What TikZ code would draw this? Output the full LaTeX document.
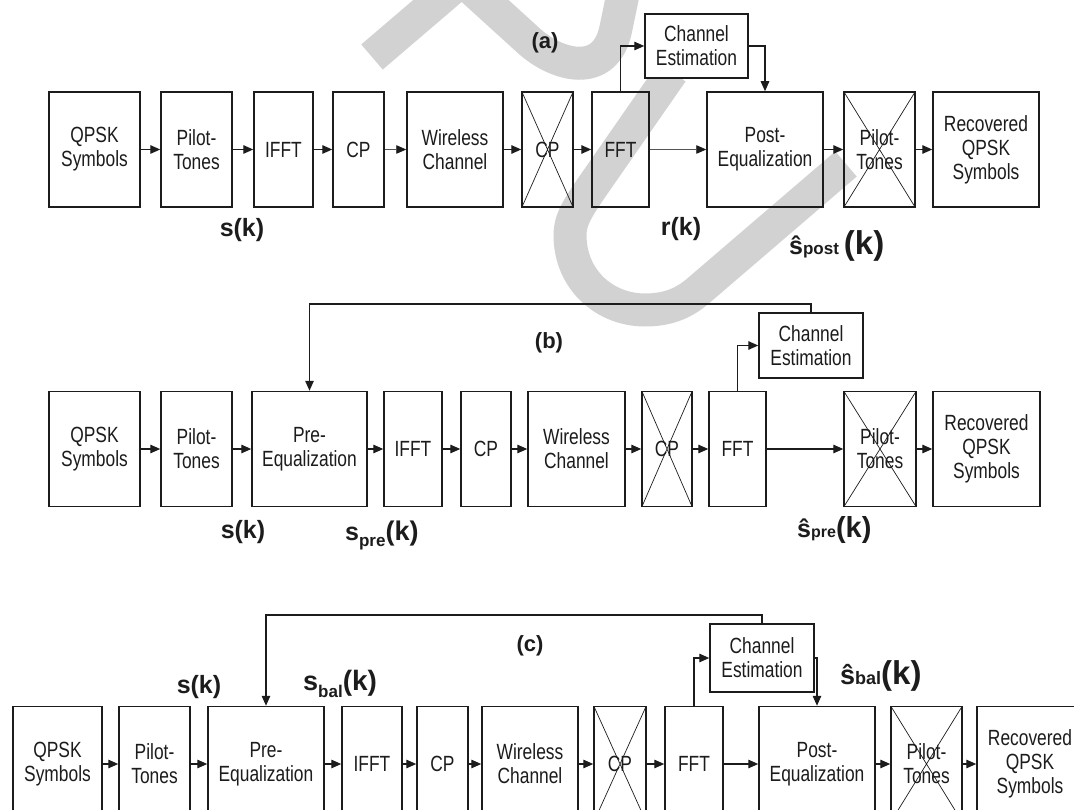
\documentclass[tikz,border=0pt]{standalone}
\usepackage{fontspec}
\setmainfont{Liberation Sans}[FakeStretch=0.79]
\newfontfamily\lblfont{Liberation Sans}
\usetikzlibrary{arrows.meta}

\definecolor{wmark}{RGB}{210,210,210}
\definecolor{ink}{RGB}{28,28,28}

\newcommand\bxfont{\fontsize{22}{24}\selectfont}
\newcommand\lsz[2]{{\fontsize{#1}{#1}\selectfont #2}}

\tikzset{
  box/.style={draw=ink, line width=1.5pt, inner sep=0pt, align=center,
    font=\bxfont, text=ink, minimum height=115pt},
  crossed/.style={box, path picture={
    \draw[line width=0.7pt, ink]
      (path picture bounding box.south west) -- (path picture bounding box.north east)
      (path picture bounding box.north west) -- (path picture bounding box.south east);}},
  flow/.style={draw=ink, line width=1.4pt, -{Triangle[length=10pt,width=8.5pt]}},
  thinflow/.style={draw=ink!75, line width=0.8pt, -{Triangle[length=10pt,width=8.5pt,color=ink]}},
  lbl/.style={font=\lblfont\bfseries, text=ink, inner sep=0pt},
  wm/.style={draw=wmark, line width=33pt, line cap=butt, line join=miter},
}

\begin{document}
\begin{tikzpicture}[x=1pt, y=-1pt]
\clip (0,0) rectangle (1074,810);
\fill[white] (0,0) rectangle (1074,810);

% background logo strokes
\draw[wm] (372,57) -- (462,-20) -- (528,40)
  .. controls (556,66) and (606,80) .. (616,28) -- (628,-30);
\draw[wm] (672,72) -- (590,190)
  .. controls (575,212) and (570,222) .. (570,235)
  .. controls (570,280) and (605,310) .. (645,310)
  .. controls (668,310) and (684,303) .. (698,291) -- (846,164);

% ---------------- (a) post-equalization ----------------
\node[box, minimum width=91pt]  (a1)  at (94.5,149.5)  {QPSK\\Symbols};
\node[box, minimum width=71pt]  (a2)  at (196.5,149.5) {Pilot-\\Tones};
\node[box, minimum width=59pt]  (a3)  at (283.5,149.5) {IFFT};
\node[box, minimum width=51pt]  (a4)  at (358.5,149.5) {CP};
\node[box, minimum width=96pt]  (a5)  at (455,149.5)   {Wireless\\Channel};
\node[crossed, minimum width=51pt] (a6) at (547.5,149.5) {CP};
\node[box, minimum width=57pt]  (a7)  at (620.5,149.5) {FFT};
\node[box, fill=white, minimum width=103pt, minimum height=64pt] (a8) at (696.5,46) {Channel\\Estimation};
\node[box, minimum width=116pt] (a9)  at (765,149.5)   {Post-\\Equalization};
\node[crossed, minimum width=71pt] (a10) at (879.5,149.5) {Pilot-\\Tones};
\node[box, minimum width=106pt] (a11) at (986,149.5)   {Recovered\\QPSK\\Symbols};

\draw[flow] (a1) -- (a2);
\draw[flow] (a2) -- (a3);
\draw[flow] (a3) -- (a4);
\draw[thinflow] (a4) -- (a5);
\draw[flow] (a5) -- (a6);
\draw[flow] (a6) -- (a7);
\draw[thinflow] (a7) -- (a9);
\draw[flow] (a9) -- (a10);
\draw[flow] (a10) -- (a11);
\draw[flow] (a7.north) |- (a8.west);
\draw[flow] (a8.east) -| (a9.north);

\node[lbl, font=\lblfont\bfseries\fontsize{22}{22}\selectfont] (ta) at (545,43) {(a)};
\node[lbl, font=\lblfont\bfseries\fontsize{25}{25}\selectfont] (sa) at (242,230) {s(k)};
\node[lbl, font=\lblfont\bfseries\fontsize{25}{25}\selectfont] (ra) at (681,229) {r(k)};
\node[lbl, anchor=base west] (pa) at (789,255)
  {\lsz{25}{ŝ}\lsz{17}{post}\hspace{5pt}\lsz{33}{(k)}};

% ---------------- (b) pre-equalization ----------------
\node[box, minimum width=91pt]  (b1)  at (94.5,449)  {QPSK\\Symbols};
\node[box, minimum width=71pt]  (b2)  at (196.5,449) {Pilot-\\Tones};
\node[box, minimum width=115pt] (b3)  at (309.5,449) {Pre-\\Equalization};
\node[box, minimum width=58pt]  (b4)  at (413,449)   {IFFT};
\node[box, minimum width=50pt]  (b5)  at (486,449)   {CP};
\node[box, minimum width=97pt]  (b6)  at (576.5,449) {Wireless\\Channel};
\node[crossed, minimum width=50pt] (b7) at (667,449) {CP};
\node[box, minimum width=57pt]  (b8)  at (737.5,449) {FFT};
\node[box, fill=white, minimum width=104pt, minimum height=65pt] (b9) at (811,345.5) {Channel\\Estimation};
\node[crossed, minimum width=72pt] (b10) at (880,449) {Pilot-\\Tones};
\node[box, minimum width=107pt] (b11) at (986.5,449) {Recovered\\QPSK\\Symbols};

\coordinate (bfb) at (0,304);
\draw[flow] (b1) -- (b2);
\draw[flow] (b2) -- (b3);
\draw[flow] (b3) -- (b4);
\draw[flow] (b4) -- (b5);
\draw[flow] (b5) -- (b6);
\draw[flow] (b6) -- (b7);
\draw[flow] (b7) -- (b8);
\draw[flow] (b8) -- (b10);
\draw[flow] (b10) -- (b11);
\draw[flow] (b8.north) |- (b9.west);
\draw[flow] (b9.north) -- (b9.north |- bfb) -| (b3.north);

\node[lbl, font=\lblfont\bfseries\fontsize{22}{22}\selectfont] (tb) at (549,343) {(b)};
\node[lbl, font=\lblfont\bfseries\fontsize{25}{25}\selectfont] (sb) at (243,532) {s(k)};
\node[lbl, anchor=base west] (qb) at (345,540)
  {\lsz{25}{s}\raisebox{-6pt}{\lsz{17}{pre}}\lsz{27}{(k)}};
\node[lbl, anchor=base west] (pb) at (797,537)
  {\lsz{25}{ŝ}\lsz{16}{pre}\lsz{29}{(k)}};

% ---------------- (c) balanced equalization ----------------
\node[box, minimum width=89pt]  (c1)  at (57.5,764)  {QPSK\\Symbols};
\node[box, minimum width=71pt]  (c2)  at (154.5,764) {Pilot-\\Tones};
\node[box, minimum width=116pt] (c3)  at (266,764)   {Pre-\\Equalization};
\node[box, minimum width=60pt]  (c4)  at (372,764)   {IFFT};
\node[box, minimum width=51pt]  (c5)  at (442.5,764) {CP};
\node[box, minimum width=96pt]  (c6)  at (530,764)   {Wireless\\Channel};
\node[crossed, minimum width=52pt] (c7) at (620,764) {CP};
\node[box, minimum width=58pt]  (c8)  at (694,764)   {FFT};
\node[box, fill=white, minimum width=104pt, minimum height=68pt] (c9) at (762,658) {Channel\\Estimation};
\node[box, minimum width=116pt] (c10) at (817,764)   {Post-\\Equalization};
\node[crossed, minimum width=71pt] (c11) at (926.5,764) {Pilot-\\Tones};
\node[box, minimum width=106pt] (c12) at (1030,764)  {Recovered\\QPSK\\Symbols};

\coordinate (cfb) at (0,615);
\draw[flow] (c1) -- (c2);
\draw[flow] (c2) -- (c3);
\draw[flow] (c3) -- (c4);
\draw[flow] (c4) -- (c5);
\draw[flow] (c5) -- (c6);
\draw[flow] (c6) -- (c7);
\draw[flow] (c7) -- (c8);
\draw[flow] (c8) -- (c10);
\draw[flow] (c10) -- (c11);
\draw[flow] (c11) -- (c12);
\draw[flow] (c8.north) |- (c9.west);
\draw[flow] (c9.east) -| (c10.north);
\draw[flow] (c9.north) -- (c9.north |- cfb) -| (c3.north);

\node[lbl, font=\lblfont\bfseries\fontsize{22}{22}\selectfont] (tc) at (530,646) {(c)};
\node[lbl, font=\lblfont\bfseries\fontsize{25}{25}\selectfont] (sc) at (199,687) {s(k)};
\node[lbl, anchor=base west] (qc) at (303,690)
  {\lsz{27}{s}\raisebox{-7pt}{\lsz{17}{bal}}\lsz{28}{(k)}};
\node[lbl, anchor=base west] (pc) at (840,684)
  {\lsz{27}{ŝ}\lsz{18}{bal}\lsz{33}{(k)}};
\end{tikzpicture}
\end{document}
